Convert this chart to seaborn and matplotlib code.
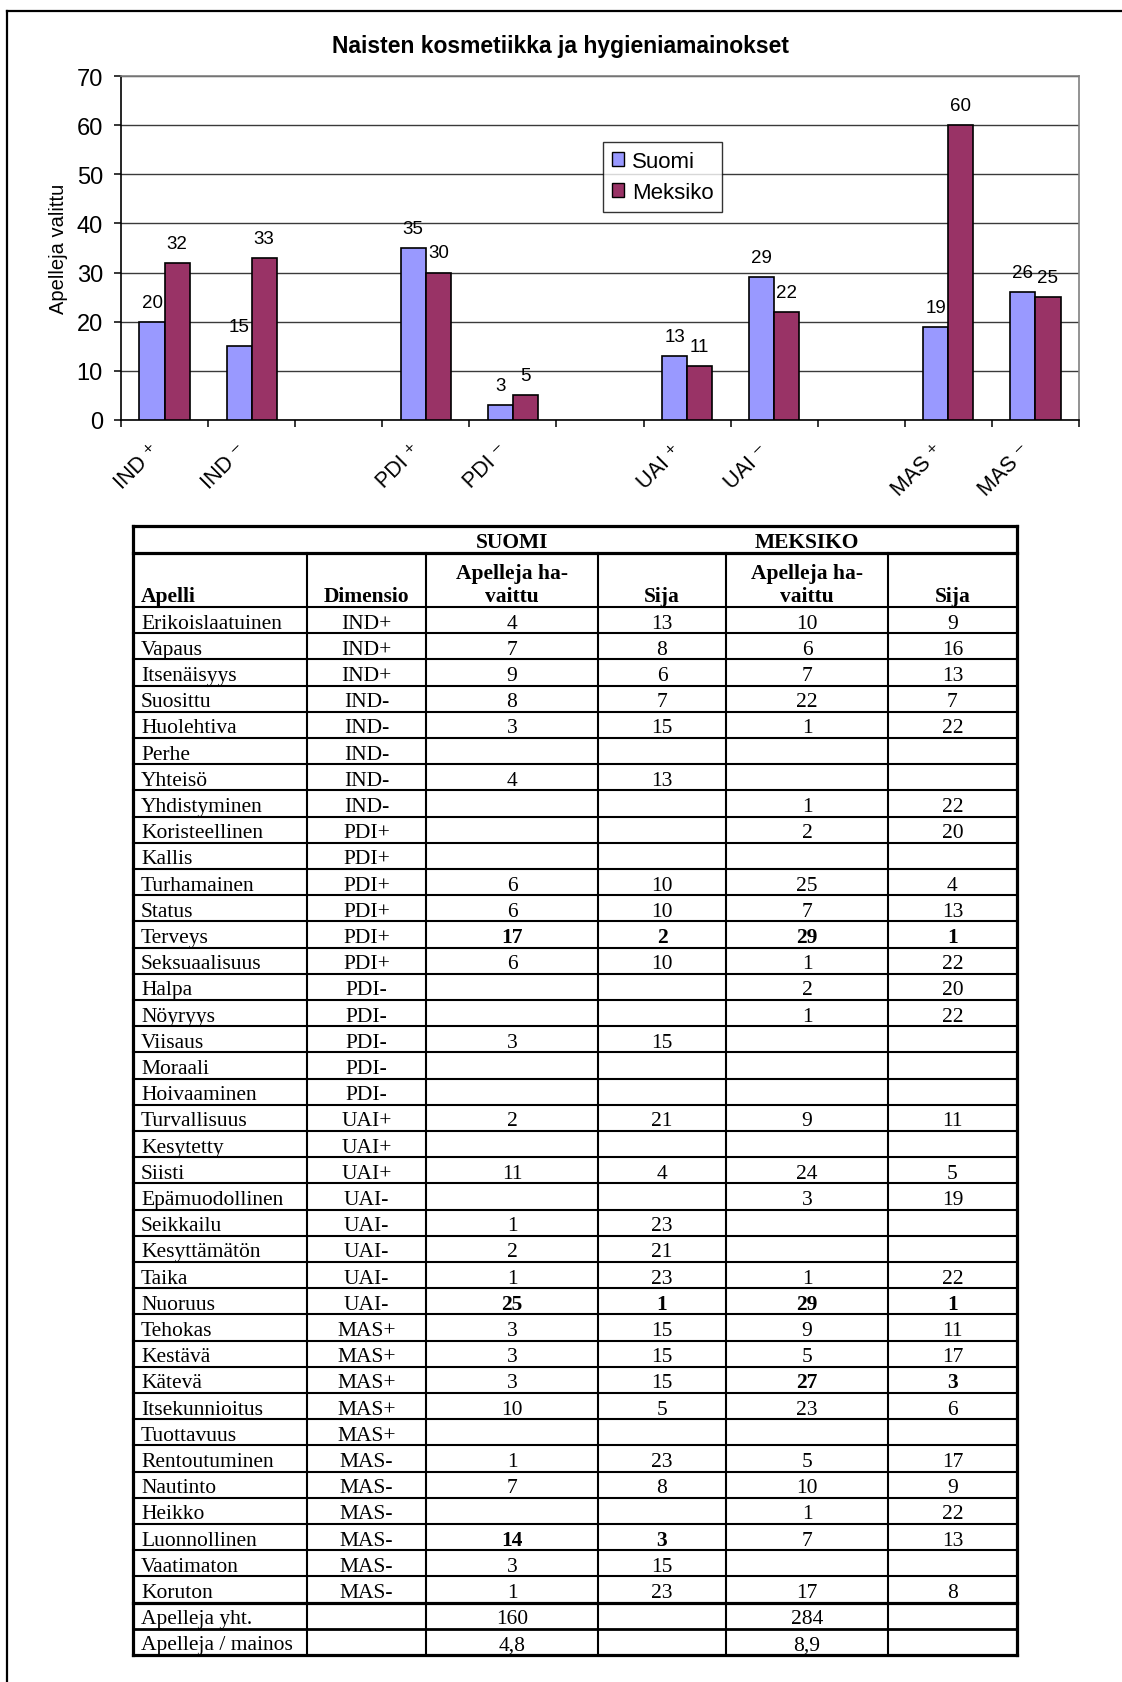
import numpy as np
import pandas as pd
import matplotlib
matplotlib.use("Agg")
import matplotlib.pyplot as plt
import matplotlib.patches as mpatches
from matplotlib.transforms import ScaledTranslation
import seaborn as sns

# ---------------- chart data ----------------
dimensiot = ["IND ⁺", "IND ⁻", "PDI ⁺", "PDI ⁻", "UAI ⁺", "UAI ⁻", "MAS ⁺", "MAS ⁻"]
suomi_kaavio = [20, 15, 35, 3, 13, 29, 19, 26]
meksiko_kaavio = [32, 33, 30, 5, 11, 22, 60, 25]
maat = ["Suomi", "Meksiko"]
# category slots on the x axis; the blank slots separate the dimension pairs
x_paikat = ["IND ⁺", "IND ⁻", " ", "PDI ⁺", "PDI ⁻", "  ", "UAI ⁺", "UAI ⁻", "   ", "MAS ⁺", "MAS ⁻"]
y_tikit = [0, 10, 20, 30, 40, 50, 60, 70]

# ---------------- table data ----------------
apellit = ["Erikoislaatuinen", "Vapaus", "Itsenäisyys", "Suosittu", "Huolehtiva", "Perhe",
           "Yhteisö", "Yhdistyminen", "Koristeellinen", "Kallis", "Turhamainen", "Status",
           "Terveys", "Seksuaalisuus", "Halpa", "Nöyryys", "Viisaus", "Moraali", "Hoivaaminen",
           "Turvallisuus", "Kesytetty", "Siisti", "Epämuodollinen", "Seikkailu", "Kesyttämätön",
           "Taika", "Nuoruus", "Tehokas", "Kestävä", "Kätevä", "Itsekunnioitus", "Tuottavuus",
           "Rentoutuminen", "Nautinto", "Heikko", "Luonnollinen", "Vaatimaton", "Koruton"]
dimensio = ["IND+"] * 3 + ["IND-"] * 5 + ["PDI+"] * 6 + ["PDI-"] * 5 + ["UAI+"] * 3 + \
           ["UAI-"] * 5 + ["MAS+"] * 5 + ["MAS-"] * 6
suomi_havaittu = [4, 7, 9, 8, 3, None, 4, None, None, None, 6, 6, 17, 6, None, None, 3, None, None,
                  2, None, 11, None, 1, 2, 1, 25, 3, 3, 3, 10, None, 1, 7, None, 14, 3, 1]
suomi_sija = [13, 8, 6, 7, 15, None, 13, None, None, None, 10, 10, 2, 10, None, None, 15, None, None,
              21, None, 4, None, 23, 21, 23, 1, 15, 15, 15, 5, None, 23, 8, None, 3, 15, 23]
meksiko_havaittu = [10, 6, 7, 22, 1, None, None, 1, 2, None, 25, 7, 29, 1, 2, 1, None, None, None,
                    9, None, 24, 3, None, None, 1, 29, 9, 5, 27, 23, None, 5, 10, 1, 7, None, 17]
meksiko_sija = [9, 16, 13, 7, 22, None, None, 22, 20, None, 4, 13, 1, 22, 20, 22, None, None, None,
                11, None, 5, 19, None, None, 22, 1, 11, 17, 3, 6, None, 17, 9, 22, 13, None, 8]
yhteenveto_nimet = ["Apelleja yht.", "Apelleja / mainos"]
suomi_yhteenveto = ["160", "4,8"]
meksiko_yhteenveto = ["284", "8,9"]

# ---------------- figure ----------------
W, H = 1122, 1683
plt.rcParams["font.family"] = ["Liberation Sans", "DejaVu Sans"]
fig = plt.figure(figsize=(W / 100, H / 100), dpi=100, facecolor="white")

c_suomi = "#9999FF"
c_meksiko = "#993366"

df = pd.DataFrame({
    "Dimensio": dimensiot * 2,
    "Maa": [maat[0]] * len(dimensiot) + [maat[1]] * len(dimensiot),
    "Apelleja": suomi_kaavio + meksiko_kaavio,
})

ax = fig.add_axes([121 / W, 1 - 421 / H, (1079 - 121) / W, (421 - 77) / H])
sns.barplot(data=df, x="Dimensio", y="Apelleja", hue="Maa", order=x_paikat, hue_order=maat,
            palette=[c_suomi, c_meksiko], saturation=1, width=0.576, edgecolor="black",
            linewidth=1.2, errorbar=None, legend=False, ax=ax, zorder=3)

for cont in ax.containers:
    ax.bar_label(cont, fmt="%g", padding=8, fontsize=13.5, zorder=4)

ax.set_xlim(-0.5, len(x_paikat) - 0.5)
ax.set_ylim(0, 70)
ax.set_yticks(y_tikit)
ax.grid(axis="y", color="#3a3a3a", linewidth=1.0, zorder=0)
ax.set_axisbelow(True)
for s in ["top", "right"]:
    ax.spines[s].set_color("#808080")
    ax.spines[s].set_linewidth(1.2)
for s in ["left", "bottom"]:
    ax.spines[s].set_color("black")
    ax.spines[s].set_linewidth(1.2)

ax.set_xticks(range(len(x_paikat)))
ax.set_xticklabels([p.strip() for p in x_paikat], rotation=45, ha="right", va="center",
                   rotation_mode="anchor", fontsize=15.5)
ax.set_xticks(np.arange(-0.5, len(x_paikat), 1), minor=True)
ax.tick_params(axis="x", which="major", length=0, pad=0)
ax.tick_params(axis="x", which="minor", length=5, width=1.1, direction="out", color="black")
ax.tick_params(axis="y", length=5, width=1.1, direction="out", pad=8, labelsize=17)
off = ScaledTranslation(-0.08, -0.27, fig.dpi_scale_trans)
for lab in ax.get_xticklabels():
    lab.set_transform(lab.get_transform() + off)

ax.set_xlabel("")
ax.set_ylabel("Apelleja valittu", fontsize=14.5, va="center")
ax.yaxis.set_label_coords((58 - 121) / (1079 - 121), 0.5)

fig.text(561 / W, 1 - 46 / H, "Naisten kosmetiikka ja hygieniamainokset",
         ha="center", va="center", fontsize=16.5, fontweight="bold")

handles = [mpatches.Patch(facecolor=c, edgecolor="black", linewidth=1.0, label=m)
           for c, m in zip([c_suomi, c_meksiko], maat)]
leg = fig.legend(handles=handles, loc="upper left", bbox_to_anchor=(603 / W, 1 - 143 / H),
                 fontsize=16, frameon=True, fancybox=False, edgecolor="black",
                 handlelength=0.55, handleheight=0.55, handletextpad=0.35, labelspacing=0.45,
                 borderpad=0.4, borderaxespad=0)
leg.get_frame().set_linewidth(1.0)

# ---------------- table ----------------
tab = fig.add_axes([0, 0, 1, 1], zorder=-1)
tab.set_xlim(0, W)
tab.set_ylim(H, 0)
tab.axis("off")

# page frame
tab.plot([7, W], [12, 12], color="black", lw=1.6, solid_capstyle="projecting")
tab.plot([7, 7], [12, H], color="black", lw=1.6, solid_capstyle="projecting")

sarakkeet = [133, 307, 426, 598, 726, 888, 1017]
y_top, y_h1, y_h2 = 527, 554, 608
n_rivit = len(apellit) + len(yhteenveto_nimet)
rivi_h = (1656 - y_h2) / n_rivit
y_bottom = y_h2 + n_rivit * rivi_h
thick, thin = 2.3, 1.5
serif = ["Liberation Serif", "DejaVu Serif"]
fs = 15.5


def hline(y, lw):
    tab.plot([sarakkeet[0], sarakkeet[-1]], [y, y], color="black", lw=lw, solid_capstyle="projecting")


hline(y_top, thick)
hline(y_h1, thick)
hline(y_h2, thin)
for i in range(1, n_rivit):
    y = y_h2 + i * rivi_h
    if i == len(apellit):
        hline(y, thick)
    elif i == len(apellit) + 1:
        hline(y, 2.0)
    else:
        hline(y, thin)
hline(y_bottom, thick)
for j, x in enumerate(sarakkeet):
    if j in (0, len(sarakkeet) - 1):
        tab.plot([x, x], [y_top, y_bottom], color="black", lw=thick, solid_capstyle="projecting")
    else:
        tab.plot([x, x], [y_h1, y_bottom], color="black", lw=thin)

keskit = [(sarakkeet[k] + sarakkeet[k + 1]) / 2 for k in range(len(sarakkeet) - 1)]

# header rows
tab.text(keskit[2], y_h1 - 6, "SUOMI", ha="center", va="baseline", fontsize=fs,
         fontweight="bold", family=serif)
tab.text(keskit[4], y_h1 - 6, "MEKSIKO", ha="center", va="baseline", fontsize=fs,
         fontweight="bold", family=serif)
tab.text(sarakkeet[0] + 8, y_h2 - 6, "Apelli", ha="left", va="baseline", fontsize=fs,
         fontweight="bold", family=serif)
tab.text(keskit[1], y_h2 - 6, "Dimensio", ha="center", va="baseline", fontsize=fs,
         fontweight="bold", family=serif)
for k in (2, 4):
    tab.text(keskit[k], y_h2 - 29, "Apelleja ha-", ha="center", va="baseline", fontsize=fs,
             fontweight="bold", family=serif)
    tab.text(keskit[k], y_h2 - 6, "vaittu", ha="center", va="baseline", fontsize=fs,
             fontweight="bold", family=serif)
for k in (3, 5):
    tab.text(keskit[k], y_h2 - 6, "Sija", ha="center", va="baseline", fontsize=fs,
             fontweight="bold", family=serif)


def solu(k, y, arvo, lihava=False):
    if arvo is None:
        return
    tab.text(keskit[k], y, str(arvo), ha="center", va="baseline", fontsize=fs,
             fontweight="bold" if lihava else "normal", family=serif)


for i, nimi in enumerate(apellit):
    yb = y_h2 + (i + 1) * rivi_h - 5.5
    tab.text(sarakkeet[0] + 8, yb, nimi, ha="left", va="baseline", fontsize=fs, family=serif)
    tab.text(keskit[1], yb, dimensio[i], ha="center", va="baseline", fontsize=fs, family=serif)
    s_top = suomi_sija[i] is not None and suomi_sija[i] <= 3
    m_top = meksiko_sija[i] is not None and meksiko_sija[i] <= 3
    solu(2, yb, suomi_havaittu[i], s_top)
    solu(3, yb, suomi_sija[i], s_top)
    solu(4, yb, meksiko_havaittu[i], m_top)
    solu(5, yb, meksiko_sija[i], m_top)

for i, nimi in enumerate(yhteenveto_nimet):
    yb = y_h2 + (len(apellit) + i + 1) * rivi_h - 5.5
    tab.text(sarakkeet[0] + 8, yb, nimi, ha="left", va="baseline", fontsize=fs, family=serif)
    solu(2, yb, suomi_yhteenveto[i])
    solu(4, yb, meksiko_yhteenveto[i])

fig.savefig("out.png", dpi=100, facecolor="white")
